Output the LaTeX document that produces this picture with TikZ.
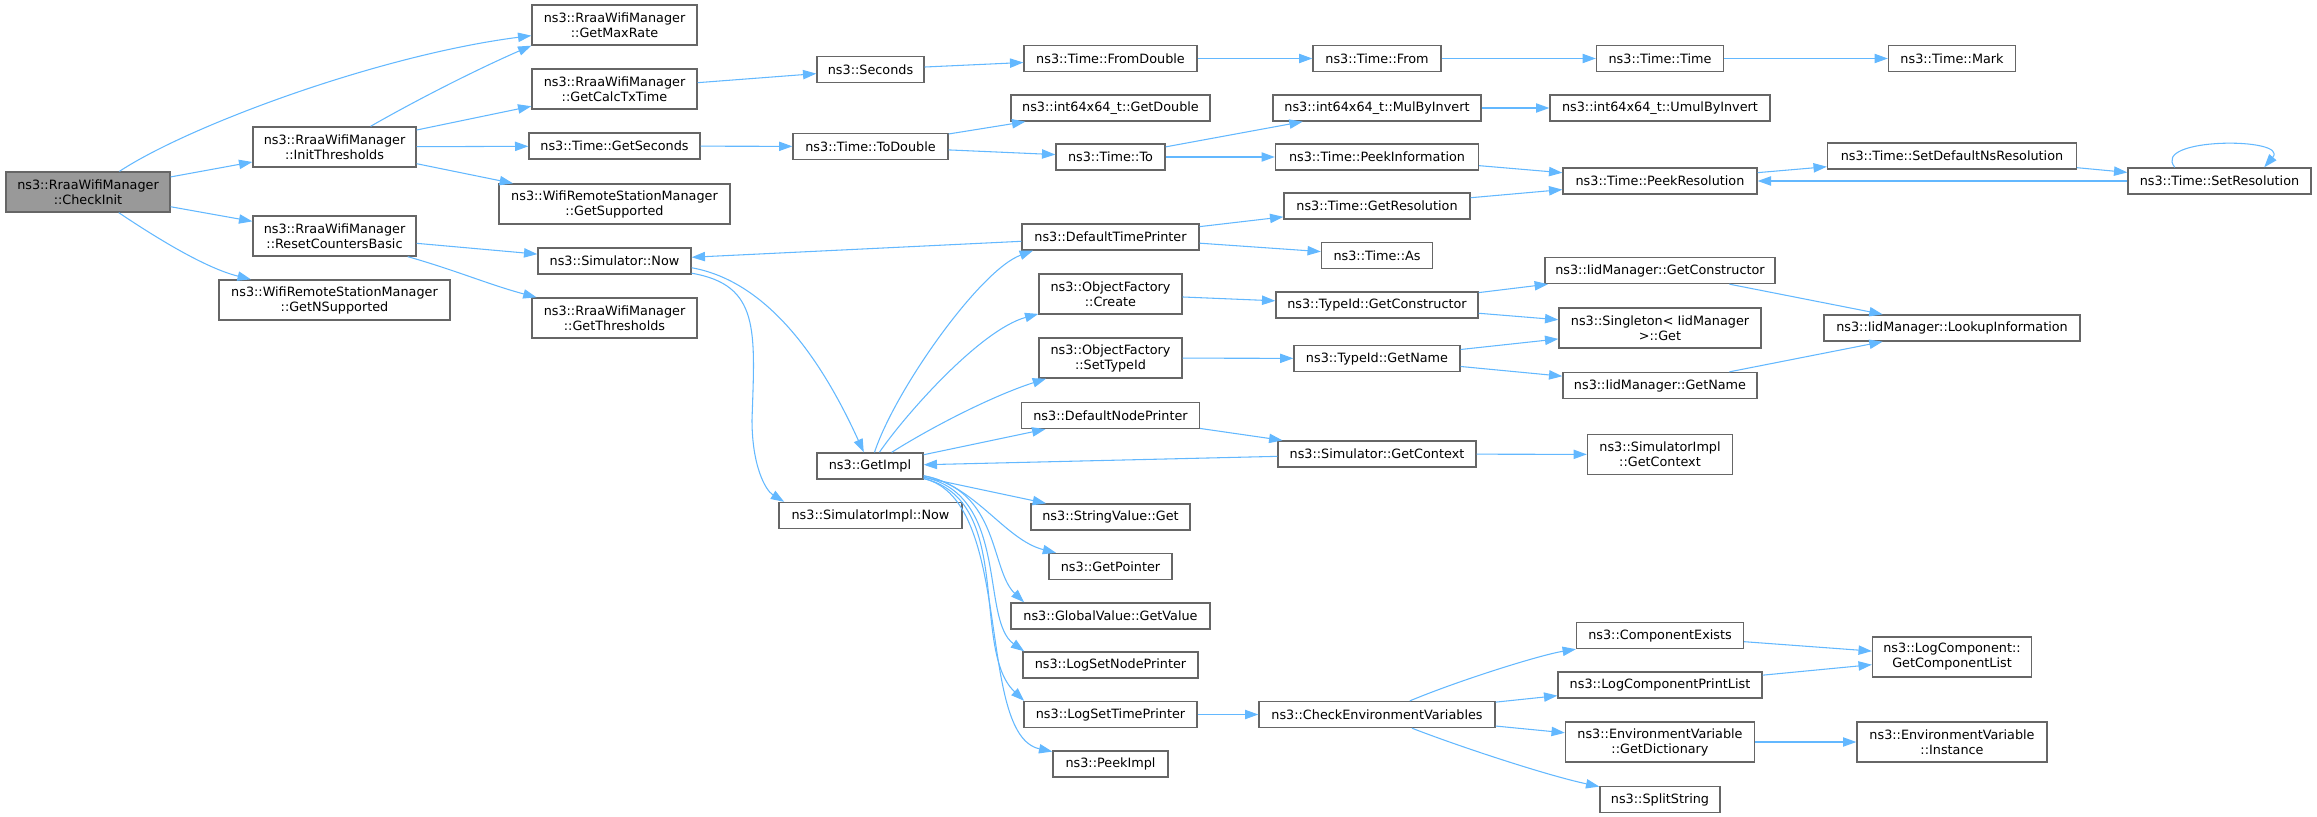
\documentclass[tikz,border=0pt]{standalone}
\usepackage{fontspec}
\usepackage{tikz}
\usetikzlibrary{arrows.meta}
\newfontfamily\dxfont{DejaVu Sans}
\definecolor{edgeblue}{HTML}{63B8FF}
\definecolor{boxline}{HTML}{666666}
\definecolor{rootfill}{HTML}{999999}

\begin{document}
\begin{tikzpicture}[x=.75pt,y=-.75pt,
	fn/.style={draw=boxline,line width=1pt,fill=white,inner sep=1pt,minimum height=19.5pt,align=center,font=\dxfont\fontsize{9.6}{11.25}\selectfont},
	rootfn/.style={fill=rootfill},
	twoline/.style={minimum height=30pt},
	bw/.style={minimum width=#1*.75pt},
	call/.style={draw=edgeblue,line width=.8pt,-{Triangle[length=10pt,width=7pt]}}]
						\useasboundingbox (0,0) rectangle (2317,817);
						%\draw[help lines,step=100] (0,0) grid (2300,800);
						\node[fn,rootfn,twoline,bw=164] (checkinit) at (88,192) {ns3::RraaWifiManager\\::CheckInit};
						\node[fn,twoline,bw=163] (initthr) at (334.5,147) {ns3::RraaWifiManager\\::InitThresholds};
						\node[fn,twoline,bw=163] (resetcb) at (334.5,236) {ns3::RraaWifiManager\\::ResetCountersBasic};
						\node[fn,twoline,bw=231] (getnsup) at (334.5,300) {ns3::WifiRemoteStationManager\\::GetNSupported};
						\node[fn,twoline,bw=165] (getmaxrate) at (614.5,25) {ns3::RraaWifiManager\\::GetMaxRate};
						\node[fn,twoline,bw=165] (getcalctx) at (614.5,89) {ns3::RraaWifiManager\\::GetCalcTxTime};
						\node[fn,bw=171] (getsec) at (614.5,146) {ns3::Time::GetSeconds};
						\node[fn,twoline,bw=231] (getsup) at (614.5,204) {ns3::WifiRemoteStationManager\\::GetSupported};
						\node[fn,bw=153] (simnow) at (614.5,261) {ns3::Simulator::Now};
						\node[fn,twoline,bw=165] (getthr) at (614.5,318) {ns3::RraaWifiManager\\::GetThresholds};
						\node[fn,bw=107] (seconds) at (870.5,69.5) {ns3::Seconds};
						\node[fn,bw=155] (todouble) at (870.5,146.5) {ns3::Time::ToDouble};
						\node[fn,bw=106] (getimpl) at (870,466) {ns3::GetImpl};
						\node[fn,bw=183] (siminow) at (870.5,515.5) {ns3::SimulatorImpl::Now};
						\node[fn,bw=173] (fromdouble) at (1110.5,58.5) {ns3::Time::FromDouble};
						\node[fn,bw=199] (getdouble) at (1110.5,108) {ns3::int64x64\_t::GetDouble};
						\node[fn,bw=109] (timeto) at (1110.5,157) {ns3::Time::To};
						\node[fn,bw=177] (dtp) at (1110.5,237) {ns3::DefaultTimePrinter};
						\node[fn,twoline,bw=143] (ofcreate) at (1110.5,294) {ns3::ObjectFactory\\::Create};
						\node[fn,twoline,bw=143] (ofsettype) at (1110.5,358) {ns3::ObjectFactory\\::SetTypeId};
						\node[fn,bw=178] (dnp) at (1110.5,415.5) {ns3::DefaultNodePrinter};
						\node[fn,bw=159] (strget) at (1110.5,517) {ns3::StringValue::Get};
						\node[fn,bw=123] (getptr) at (1110.5,566.5) {ns3::GetPointer};
						\node[fn,bw=199] (gvgetval) at (1110.5,616) {ns3::GlobalValue::GetValue};
						\node[fn,bw=175] (lsnp) at (1110.5,665) {ns3::LogSetNodePrinter};
						\node[fn,bw=173] (lstp) at (1110.5,714.5) {ns3::LogSetTimePrinter};
						\node[fn,bw=115] (peekimpl) at (1110.5,764) {ns3::PeekImpl};
						\node[fn,bw=128] (timefrom) at (1377,58.5) {ns3::Time::From};
						\node[fn,bw=208] (mulbyinv) at (1377,108) {ns3::int64x64\_t::MulByInvert};
						\node[fn,bw=203] (peekinfo) at (1377,157) {ns3::Time::PeekInformation};
						\node[fn,bw=186] (getres) at (1377,206) {ns3::Time::GetResolution};
						\node[fn,bw=111] (timeas) at (1377,255.5) {ns3::Time::As};
						\node[fn,bw=202] (typegetctor) at (1377,305) {ns3::TypeId::GetConstructor};
						\node[fn,bw=166] (typegetname) at (1377,358.5) {ns3::TypeId::GetName};
						\node[fn,bw=198] (simgetctx) at (1377,454) {ns3::Simulator::GetContext};
						\node[fn,bw=236] (checkenv) at (1377,714.5) {ns3::CheckEnvironmentVariables};
						\node[fn,bw=127] (timetime) at (1660,58.5) {ns3::Time::Time};
						\node[fn,bw=220] (umulbyinv) at (1660,108) {ns3::int64x64\_t::UmulByInvert};
						\node[fn,bw=194] (peekres) at (1660,181) {ns3::Time::PeekResolution};
						\node[fn,bw=230] (iidgetctor) at (1660,270.5) {ns3::IidManager::GetConstructor};
						\node[fn,twoline,bw=202] (singleton) at (1660,328) {ns3::Singleton< IidManager\\ >::Get};
						\node[fn,bw=194] (iidgetname) at (1660,385.5) {ns3::IidManager::GetName};
						\node[fn,twoline,bw=145] (simigetctx) at (1660,454.5) {ns3::SimulatorImpl\\::GetContext};
						\node[fn,bw=167] (compexists) at (1660,635.5) {ns3::ComponentExists};
						\node[fn,bw=204] (logcpl) at (1660,685) {ns3::LogComponentPrintList};
						\node[fn,twoline,bw=189] (getdict) at (1660,742) {ns3::EnvironmentVariable\\::GetDictionary};
						\node[fn,bw=120] (splitstr) at (1660,799.5) {ns3::SplitString};
						\node[fn,bw=127] (mark) at (1952,58.5) {ns3::Time::Mark};
						\node[fn,bw=249] (setdefns) at (1952,156) {ns3::Time::SetDefaultNsResolution};
						\node[fn,bw=256] (lookup) at (1952,328) {ns3::IidManager::LookupInformation};
						\node[fn,twoline,bw=159] (getcomplist) at (1952,657) {ns3::LogComponent::\\GetComponentList};
						\node[fn,twoline,bw=190] (envinst) at (1952,742) {ns3::EnvironmentVariable\\::Instance};
						\node[fn,bw=183] (setres) at (2219.5,181) {ns3::Time::SetResolution};
						% CheckInit
						\draw[call] (checkinit) .. controls (190,125) and (380,55) .. (getmaxrate);
						\draw[call] (checkinit) -- (initthr);
						\draw[call] (checkinit) -- (resetcb);
						\draw[call] (checkinit) .. controls (155,237) and (205,268) .. (getnsup);
						\draw[call] (initthr) .. controls (420,98) and (480,68) .. (getmaxrate.south west);
						\draw[call] (initthr) -- (getcalctx);
						\draw[call] (initthr) -- (getsec);
						\draw[call] (initthr) -- (getsup);
						\draw[call] (resetcb) -- (simnow);
						\draw[call] (resetcb) .. controls (455,270) and (490,285) .. (getthr);
						% time
						\draw[call] (getcalctx) -- (seconds);
						\draw[call] (seconds) -- (fromdouble);
						\draw[call] (fromdouble) -- (timefrom);
						\draw[call] (timefrom) -- (timetime);
						\draw[call] (timetime) -- (mark);
						\draw[call] (getsec) -- (todouble);
						\draw[call] (todouble) -- (getdouble);
						\draw[call] (todouble) -- (timeto);
						\draw[call] (timeto) -- (mulbyinv);
						\draw[call] (timeto) -- (peekinfo);
						\draw[call] (mulbyinv) -- (umulbyinv);
						\draw[call] (peekinfo) -- (peekres);
						\draw[call] (getres) -- (peekres);
						\draw[call] (peekres) -- (setdefns);
						\draw[call] (setdefns) -- (setres);
						\draw[call] (setres) -- (peekres);
						\draw[call] (setres.163) .. controls (2150,137) and (2290,137) .. (setres.17);
						% simulator
						\draw[call] (simnow.-5) .. controls (760,280) and (815,345) .. (getimpl);
						\draw[call] (simnow.-9) .. controls (760,285) and (755,330) .. (752,420) .. controls (752,465) and (765,490) .. (siminow.171);
						\draw[call] (dtp) -- (simnow);
						\draw[call] (dtp) -- (getres);
						\draw[call] (dtp) -- (timeas);
						% GetImpl
						\draw[call] (getimpl) .. controls (895,390) and (980,270) .. (dtp.190);
						\draw[call] (getimpl) .. controls (905,415) and (980,330) .. (ofcreate);
						\draw[call] (getimpl) .. controls (935,425) and (995,395) .. (ofsettype);
						\draw[call] (getimpl) -- (dnp);
						\draw[call] (getimpl) -- (strget);
						\draw[call] (getimpl) .. controls (975,485) and (1005,540) .. (getptr);
						\draw[call] (getimpl) .. controls (1000,490) and (990,570) .. (gvgetval.171);
						\draw[call] (getimpl) .. controls (1010,495) and (980,620) .. (lsnp.171);
						\draw[call] (getimpl) .. controls (1015,500) and (970,650) .. (lstp.171);
						\draw[call] (getimpl) .. controls (1015,500) and (975,735) .. (peekimpl);
						% TypeId
						\draw[call] (ofcreate) -- (typegetctor);
						\draw[call] (ofsettype) -- (typegetname);
						\draw[call] (typegetctor) -- (iidgetctor);
						\draw[call] (typegetctor) -- (singleton);
						\draw[call] (typegetname) -- (singleton);
						\draw[call] (typegetname) -- (iidgetname);
						\draw[call] (iidgetctor) -- (lookup);
						\draw[call] (iidgetname) -- (lookup);
						% context
						\draw[call] (dnp) -- (simgetctx);
						\draw[call] (simgetctx) -- (getimpl);
						\draw[call] (simgetctx) -- (simigetctx);
						% environment
						\draw[call] (lstp) -- (checkenv);
						\draw[call] (checkenv) .. controls (1460,680) and (1540,655) .. (compexists);
						\draw[call] (checkenv) -- (logcpl);
						\draw[call] (checkenv) -- (getdict);
						\draw[call] (checkenv) .. controls (1455,745) and (1545,775) .. (splitstr);
						\draw[call] (compexists) -- (getcomplist);
						\draw[call] (logcpl) -- (getcomplist);
						\draw[call] (getdict) -- (envinst);
						\end{tikzpicture}
\end{document}
